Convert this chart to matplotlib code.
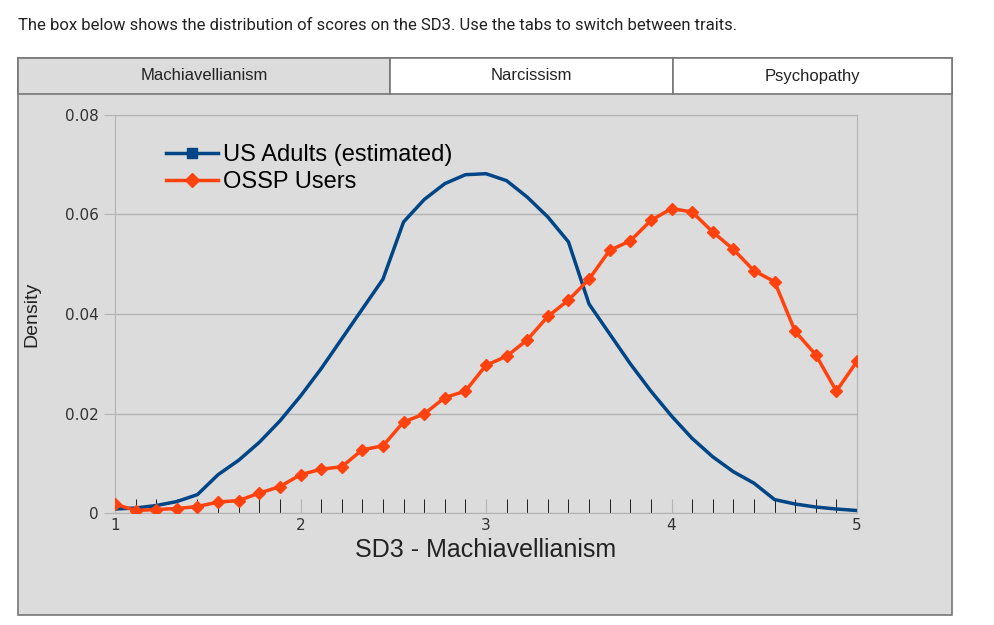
import matplotlib.pyplot as plt
from matplotlib.patches import Rectangle

# --- data ---
x = [1 + i / 9 for i in range(37)]
us_adults = [0.0008, 0.0010, 0.0015, 0.0023, 0.0037, 0.0077, 0.0106, 0.0142, 0.0185,
             0.0235, 0.0290, 0.0350, 0.0410, 0.0470, 0.0585, 0.0630, 0.0662, 0.0680,
             0.0682, 0.0668, 0.0635, 0.0595, 0.0545, 0.0420, 0.0360, 0.0300, 0.0245,
             0.0195, 0.0150, 0.0113, 0.0083, 0.0060, 0.0027, 0.0018, 0.0012, 0.0008,
             0.0005]
ossp_users = [0.0018, 0.0005, 0.0007, 0.0009, 0.0013, 0.0022, 0.0025, 0.0040, 0.0053,
              0.0077, 0.0088, 0.0093, 0.0127, 0.0135, 0.0183, 0.0199, 0.0232, 0.0245,
              0.0297, 0.0315, 0.0348, 0.0395, 0.0428, 0.0470, 0.0528, 0.0547, 0.0588,
              0.0612, 0.0605, 0.0565, 0.0530, 0.0487, 0.0465, 0.0365, 0.0318, 0.0245,
              0.0305]
tabs = ["Machiavellianism", "Narcissism", "Psychopathy"]
y_ticks = [0, 0.02, 0.04, 0.06, 0.08]
y_labels = ["0", "0.02", "0.04", "0.06", "0.08"]

W, H = 995, 625
fig = plt.figure(figsize=(W / 100, H / 100), dpi=100)
fig.patch.set_facecolor("white")


def fx(px):
    return px / W


def fy(py):
    return 1 - py / H


fig.text(fx(18), fy(25), "The box below shows the distribution of scores on the SD3. "
         "Use the tabs to switch between traits.", fontsize=12, va="center",
         color="#222222", family="Roboto")

# grey box
fig.patches.append(Rectangle((fx(18), fy(615)), fx(952 - 18), (615 - 58) / H,
                             transform=fig.transFigure, facecolor="#dcdcdc",
                             edgecolor="#777777", lw=1.2, zorder=-3))
# tabs
edges = [18, 390, 673, 952]
for i, name in enumerate(tabs):
    fc = "#dcdcdc" if i == 0 else "white"
    fig.patches.append(Rectangle((fx(edges[i]), fy(94)), fx(edges[i + 1] - edges[i]),
                                 36 / H, transform=fig.transFigure, facecolor=fc,
                                 edgecolor="#777777", lw=1.2, zorder=-2))
    fig.text(fx((edges[i] + edges[i + 1]) / 2), fy(76), name, ha="center", va="center",
             fontsize=12, family="Liberation Sans", color="#222222")

ax = fig.add_axes([fx(115), fy(513), fx(857 - 115), (513 - 115) / H])
ax.set_facecolor("#dcdcdc")
ax.plot(x, us_adults, color="#004586", lw=2.5, zorder=3)
ax.plot(x, ossp_users, color="#ff420e", lw=2.5, marker="D", markersize=6, zorder=4)

ax.set_xlim(1, 5)
ax.set_ylim(0, 0.08)
ax.set_yticks(y_ticks)
ax.set_yticklabels(y_labels)
ax.set_xticks([1, 2, 3, 4, 5])
ax.set_xticks(x, minor=True)
ax.grid(axis="y", color="#b3b3b3", lw=1)
ax.set_axisbelow(True)
for s in ax.spines.values():
    s.set_color("#b3b3b3")
ax.tick_params(axis="both", colors="#b3b3b3", labelcolor="#333333", labelsize=11)
ax.tick_params(axis="x", which="both", direction="in", length=10)
ax.tick_params(axis="y", length=8)
ax.set_xlabel("SD3 - Machiavellianism", fontsize=18, color="#222222",
              family="Liberation Sans")
ax.set_ylabel("Density", fontsize=14, color="#222222", family="Liberation Sans",
              labelpad=18)

h1, = ax.plot([], [], color="#004586", lw=2.5, marker="s", markersize=7)
h2, = ax.plot([], [], color="#ff420e", lw=2.5, marker="D", markersize=7)
ax.legend([h1, h2], ["US Adults (estimated)", "OSSP Users"], loc="upper left",
          bbox_to_anchor=(0.04, 0.98), frameon=False, handlelength=2.2,
          handletextpad=0.2, labelspacing=0.2,
          prop={"family": ["Liberation Sans Narrow", "Liberation Sans"], "size": 17})

fig.savefig("out.png", dpi=100)
